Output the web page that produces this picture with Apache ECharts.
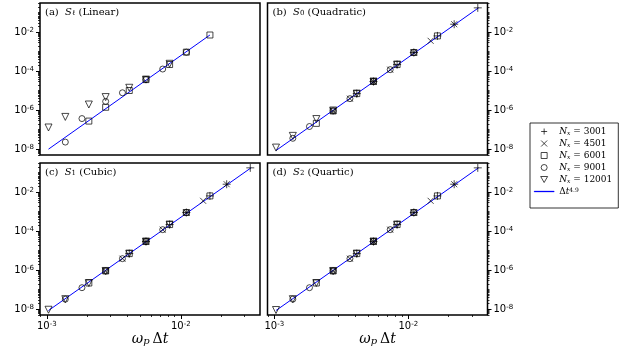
<!DOCTYPE html>
<html><head><meta charset="utf-8">
<script src="https://cdn.jsdelivr.net/npm/echarts@6/dist/echarts.min.js"></script>
<style>html,body{margin:0;padding:0;background:#fff}#c{width:625px;height:350px}</style>
</head><body><div id="c"></div>
<script>
// ---- panel texts ----
const panelLetters = ['(a)', '(b)', '(c)', '(d)'];
const panelSubs = ['ℓ', '0', '1', '2'];
const panelKinds = ['(Linear)', '(Quadratic)', '(Cubic)', '(Quartic)'];

// ---- legend ----
const seriesNames = ['N3001', 'N4501', 'N6001', 'N9001', 'N12001'];
const nxLabels = ['3001', '4501', '6001', '9001', '12001'];
const fitName = 'fit';
const fitExponent = '4.9';

// ---- axis ticks ----
const xMajorTicks = [1e-3, 1e-2];
const yLabelTicks = [1e-8, 1e-6, 1e-4, 1e-2];
const xRange = [8.9e-4, 0.039];
const yRange = [5e-9, 0.316];

// ---- x values: omega_p * Delta t for each N_x ----
const x3001 = [0.033, 0.022, 0.0165, 0.011, 0.00825, 0.0055, 0.004125];
const x4501 = [0.022, 0.01467, 0.011, 0.00733, 0.0055, 0.00367, 0.00275];
const x6001 = [0.0165, 0.011, 0.00825, 0.0055, 0.004125, 0.00275, 0.00206];
const x9001 = [0.011, 0.00733, 0.0055, 0.00367, 0.00275, 0.00183, 0.001375];
const x12001 = [0.00825, 0.0055, 0.004125, 0.00275, 0.00206, 0.001375, 0.00103];

// ---- (a) S_l Linear ----
const a6001 = [7.2e-3, 9.5e-4, 2.2e-4, 3.7e-5, 1.02e-5, 1.41e-6, 2.75e-7];
const a9001 = [9.5e-4, 1.29e-4, 3.7e-5, 7.8e-6, 2.8e-6, 3.7e-7, 2.3e-8];
const a12001 = [2.4e-4, 3.7e-5, 1.41e-5, 4.7e-6, 1.95e-6, 4.5e-7, 1.29e-7];
const aFit = [[0.00103, 1.0e-8], [0.0165, 7.2e-3]];

// ---- (b) S_0 Quadratic ----
const b3001 = [1.78e-1, 2.57e-2, 6.46e-3, 9.1e-4, 2.19e-4, 2.95e-5, 7.08e-6];
const b4501 = [2.57e-2, 3.63e-3, 9.1e-4, 1.2e-4, 2.95e-5, 3.89e-6, 9.1e-7];
const b6001 = [6.46e-3, 9.1e-4, 2.19e-4, 2.95e-5, 7.08e-6, 9.1e-7, 2.1e-7];
const b9001 = [9.1e-4, 1.2e-4, 2.95e-5, 3.89e-6, 9.1e-7, 1.45e-7, 3.6e-8];
const b12001 = [2.19e-4, 2.95e-5, 7.08e-6, 9.6e-7, 3.5e-7, 4.8e-8, 1.2e-8];
const bFit = [[0.00103, 8.5e-9], [0.0335, 1.8e-1]];

// ---- (c) S_1 Cubic ----
const c3001 = [1.78e-1, 2.57e-2, 6.46e-3, 9.1e-4, 2.19e-4, 2.95e-5, 7.08e-6];
const c4501 = [2.57e-2, 3.63e-3, 9.1e-4, 1.2e-4, 2.95e-5, 3.89e-6, 9.1e-7];
const c6001 = [6.46e-3, 9.1e-4, 2.19e-4, 2.95e-5, 7.08e-6, 9.1e-7, 2.19e-7];
const c9001 = [9.1e-4, 1.2e-4, 2.95e-5, 3.89e-6, 9.1e-7, 1.26e-7, 3.24e-8];
const c12001 = [2.19e-4, 2.95e-5, 7.08e-6, 9.1e-7, 2.19e-7, 3.24e-8, 9.3e-9];
const cFit = [[0.00103, 8.5e-9], [0.0335, 1.8e-1]];

// ---- (d) S_2 Quartic ----
const d3001 = [1.78e-1, 2.57e-2, 6.46e-3, 9.1e-4, 2.19e-4, 2.95e-5, 7.08e-6];
const d4501 = [2.57e-2, 3.63e-3, 9.1e-4, 1.2e-4, 2.95e-5, 3.89e-6, 9.1e-7];
const d6001 = [6.46e-3, 9.1e-4, 2.19e-4, 2.95e-5, 7.08e-6, 9.1e-7, 2.19e-7];
const d9001 = [9.1e-4, 1.2e-4, 2.95e-5, 3.89e-6, 9.1e-7, 1.26e-7, 3.24e-8];
const d12001 = [2.19e-4, 2.95e-5, 7.08e-6, 9.1e-7, 2.19e-7, 3.24e-8, 9.0e-9];
const dFit = [[0.00103, 8.5e-9], [0.0335, 1.8e-1]];

// ================= build =================
const xsAll = [x3001, x4501, x6001, x9001, x12001];
const panels = [
  { ys: [null, null, a6001, a9001, a12001], fit: aFit },
  { ys: [b3001, b4501, b6001, b9001, b12001], fit: bFit },
  { ys: [c3001, c4501, c6001, c9001, c12001], fit: cFit },
  { ys: [d3001, d4501, d6001, d9001, d12001], fit: dFit }
];
const grids = [
  { left: 40, top: 3, width: 220, height: 152 },
  { left: 267.5, top: 3, width: 220, height: 152 },
  { left: 40, top: 163, width: 220, height: 152 },
  { left: 267.5, top: 163, width: 220, height: 152 }
];
const symbols = ['path://M5,0L5,10M0,5L10,5', 'path://M0,0L10,10M0,10L10,0', 'path://M0,0L10,0L10,10L0,10Z', 'circle', 'path://M0,0L10,0L5,8.66Z'];
const symSizes = [8, 6, 6, 6, 7];

// minor tick positions (axis decoration)
const minorX = [];
for (let k = -4; k <= -1; k++) for (let m = 2; m <= 9; m++) {
  const v = m * Math.pow(10, k);
  if (v >= xRange[0] && v <= xRange[1]) minorX.push(v);
}
const minorY = [];
for (let k = -9; k <= -1; k++) for (let m = 1; m <= 9; m++) {
  const v = m * Math.pow(10, k);
  if (v < yRange[0] || v > yRange[1]) continue;
  if (m === 1 && yLabelTicks.some(t => Math.abs(t - v) / v < 1e-6)) continue;
  minorY.push(v);
}

const supFmt = v => '{b|10}{s|-' + Math.round(-Math.log10(v)) + '}';
const labelRich = {
  b: { fontFamily: 'DejaVu Sans', fontSize: 10, color: '#000' },
  s: { fontFamily: 'DejaVu Sans', fontSize: 7, color: '#000', verticalAlign: 'top', padding: [0, 0, 4, 0] }
};

const xAxis = [], yAxis = [], series = [], title = [];
grids.forEach((g, gi) => {
  const bottomRow = gi >= 2;
  const rightSide = gi % 2 === 1;
  xAxis.push({
    type: 'log', gridIndex: gi, min: xRange[0], max: xRange[1], position: 'bottom',
    axisLine: { show: false, onZero: false }, splitLine: { show: false },
    axisTick: { show: bottomRow, length: 4, customValues: xMajorTicks, lineStyle: { color: '#000', width: 1 } },
    axisLabel: { show: bottomRow, customValues: xMajorTicks, margin: 6, formatter: supFmt, rich: labelRich },
    name: bottomRow ? '{i|ω}{sub|p}{r|Δ}{i|t}' : '', nameLocation: 'middle', nameGap: 14,
    nameTextStyle: {
      rich: {
        i: { fontFamily: 'DejaVu Serif', fontStyle: 'italic', fontSize: 14, color: '#000' },
        r: { fontFamily: 'DejaVu Serif', fontSize: 14, color: '#000' },
        sub: { fontFamily: 'DejaVu Serif', fontStyle: 'italic', fontSize: 10, color: '#000', verticalAlign: 'bottom', padding: [0, 3, 0, 0] }
      }
    }
  });
  xAxis.push({
    type: 'log', gridIndex: gi, min: xRange[0], max: xRange[1], position: 'bottom',
    axisLine: { show: false, onZero: false }, splitLine: { show: false },
    axisTick: { show: bottomRow, length: 2, customValues: minorX, lineStyle: { color: '#000', width: 0.8 } },
    axisLabel: { show: false }
  });
  yAxis.push({
    type: 'log', gridIndex: gi, min: yRange[0], max: yRange[1], position: rightSide ? 'right' : 'left',
    axisLine: { show: false, onZero: false }, splitLine: { show: false },
    axisTick: { show: true, length: 4, customValues: yLabelTicks, lineStyle: { color: '#000', width: 1 } },
    axisLabel: { show: true, customValues: yLabelTicks, margin: 6, formatter: supFmt, rich: labelRich }
  });
  yAxis.push({
    type: 'log', gridIndex: gi, min: yRange[0], max: yRange[1], position: rightSide ? 'right' : 'left',
    axisLine: { show: false, onZero: false }, splitLine: { show: false },
    axisTick: { show: true, length: 2, customValues: minorY, lineStyle: { color: '#000', width: 0.8 } },
    axisLabel: { show: false }
  });
  const p = panels[gi];
  p.ys.forEach((ys, si) => {
    series.push({
      type: 'scatter', name: seriesNames[si], xAxisIndex: 2 * gi, yAxisIndex: 2 * gi,
      data: ys ? xsAll[si].map((x, j) => [x, ys[j]]) : [],
      symbol: symbols[si], symbolSize: symSizes[si], z: 3, silent: true,
      itemStyle: { color: 'rgba(0,0,0,0)', borderColor: '#000', borderWidth: 0.9 }
    });
  });
  series.push({
    type: 'line', name: fitName, xAxisIndex: 2 * gi, yAxisIndex: 2 * gi,
    data: p.fit, symbol: 'none', showSymbol: false, z: 2, silent: true,
    lineStyle: { color: '#0000ff', width: 1 }, itemStyle: { color: '#0000ff' }
  });
  title.push({
    text: '{n|' + panelLetters[gi] + '}  {i|S}{sub|' + panelSubs[gi] + '} {n|' + panelKinds[gi] + '}',
    left: g.left + 5, top: g.top + 4, padding: 0,
    textStyle: {
      fontFamily: 'DejaVu Serif', fontSize: 10, fontWeight: 'normal', color: '#000',
      rich: {
        n: { fontFamily: 'DejaVu Serif', fontSize: 10, color: '#000' },
        i: { fontFamily: 'DejaVu Serif', fontStyle: 'italic', fontSize: 10, color: '#000' },
        sub: { fontFamily: 'DejaVu Serif', fontSize: 7, color: '#000', verticalAlign: 'bottom', padding: [3, 0, 0, 0] }
      }
    }
  });
});

const markerLegendStyle = { color: 'rgba(0,0,0,0)', borderColor: '#000', borderWidth: 0.9 };
const legendData = seriesNames.map((n, i) => ({ name: n, icon: symbols[i], itemStyle: markerLegendStyle }))
  .concat([{ name: fitName, icon: 'path://M0,0L20,0L20,1L0,1Z', itemStyle: { color: '#0000ff', borderColor: '#0000ff', borderWidth: 0.3 } }]);

const chart = echarts.init(document.getElementById('c'), null, { renderer: 'canvas' });
chart.setOption({
  animation: false,
  backgroundColor: '#fff',
  title: title,
  grid: grids.map(g => Object.assign({ show: true, borderColor: '#000', borderWidth: 1.5, backgroundColor: 'transparent' }, g)),
  xAxis: xAxis,
  yAxis: yAxis,
  legend: {
    data: legendData,
    orient: 'vertical', left: 530, top: 123,
    itemWidth: 20, itemHeight: 6, itemGap: 3,
    borderColor: '#000', borderWidth: 0.8, padding: [4, 6, 12, 4],
    selectedMode: false,
    formatter: name => {
      if (name === fitName) return '{r|Δ}{i|t}{s|' + fitExponent + '}';
      const idx = seriesNames.indexOf(name);
      return '{i|N}{sub|x}{r| = ' + nxLabels[idx] + '}';
    },
    textStyle: {
      fontFamily: 'DejaVu Serif', fontSize: 9, color: '#000',
      rich: {
        r: { fontFamily: 'DejaVu Serif', fontSize: 9, color: '#000' },
        i: { fontFamily: 'DejaVu Serif', fontStyle: 'italic', fontSize: 9, color: '#000' },
        sub: { fontFamily: 'DejaVu Serif', fontStyle: 'italic', fontSize: 6, color: '#000', verticalAlign: 'bottom' },
        s: { fontFamily: 'DejaVu Serif', fontSize: 6, color: '#000', verticalAlign: 'top' }
      }
    }
  },
  series: series
});
</script>
</body></html>
